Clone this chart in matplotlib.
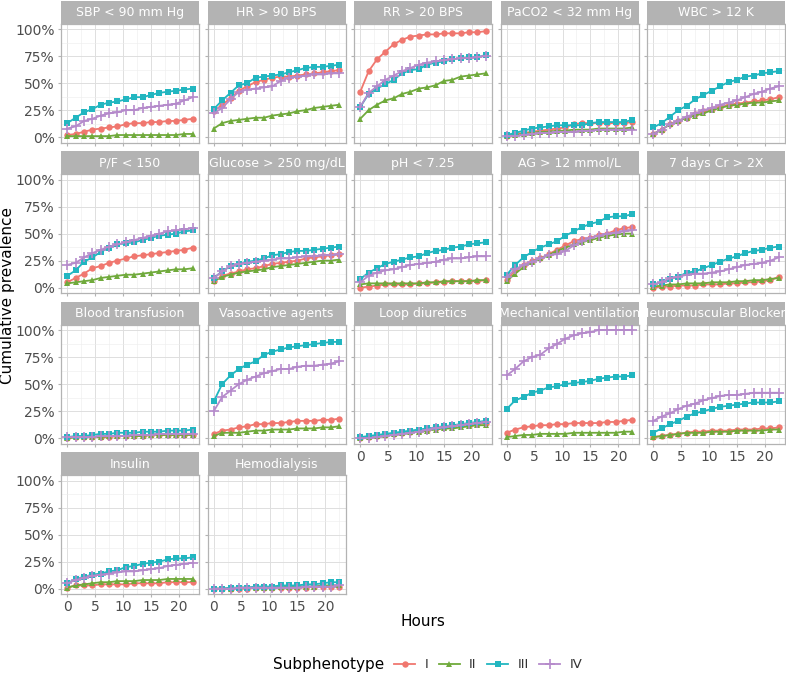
import matplotlib.pyplot as plt
from matplotlib.lines import Line2D
from matplotlib.ticker import FixedLocator, PercentFormatter

# hours since onset (points every 1.5 h)
hours = [0, 1.5, 3, 4.5, 6, 7.5, 9, 10.5, 12, 13.5, 15, 16.5, 18, 19.5, 21, 22.5]

groups = ['I', 'II', 'III', 'IV']
colors = ['#F0776F', '#70AA3C', '#22B6C0', '#B58ACB']
markers = ['o', '^', 's', '+']

# cumulative prevalence (%) per subphenotype I, II, III, IV
sbp = [[2, 3, 5, 7, 8, 9, 10, 12, 13, 13, 14, 14, 15, 15, 16, 17],
       [1, 1, 1, 1, 1, 1, 2, 2, 2, 2, 2, 2, 2, 2, 3, 3],
       [13, 18, 23, 26, 30, 32, 33, 35, 37, 37, 39, 41, 42, 43, 44, 45],
       [8, 10, 15, 17, 20, 22, 23, 25, 25, 27, 28, 29, 30, 31, 34, 37]]
hr = [[24, 30, 36, 43, 47, 51, 53, 55, 56, 56, 57, 58, 59, 60, 61, 62],
      [8, 13, 15, 16, 17, 18, 18, 20, 21, 22, 24, 25, 27, 28, 29, 30],
      [26, 34, 41, 48, 50, 55, 56, 57, 58, 60, 62, 64, 65, 65, 66, 67],
      [22, 27, 35, 42, 44, 45, 46, 47, 52, 55, 56, 57, 58, 58, 59, 59]]
rr = [[42, 61, 72, 79, 86, 90, 93, 94, 95, 95, 96, 96, 96, 97, 97, 98],
      [17, 25, 30, 34, 36, 40, 42, 45, 46, 48, 52, 53, 56, 57, 58, 59],
      [28, 40, 45, 49, 53, 59, 62, 63, 67, 69, 70, 72, 73, 74, 74, 76],
      [28, 41, 47, 53, 57, 61, 64, 67, 69, 70, 71, 72, 73, 73, 74, 75]]
paco2 = [[1, 3, 4, 5, 6, 7, 8, 9, 12, 13, 13, 13, 13, 13, 13, 14],
         [1, 2, 3, 4, 5, 5, 6, 6, 7, 7, 7, 8, 8, 8, 8, 9],
         [2, 4, 6, 8, 9, 10, 11, 11, 11, 11, 13, 14, 14, 14, 14, 16],
         [1, 1, 2, 3, 4, 4, 5, 5, 5, 6, 6, 7, 7, 7, 7, 7]]
wbc = [[3, 7, 12, 15, 18, 21, 24, 26, 28, 30, 31, 32, 33, 34, 35, 37],
       [3, 7, 12, 15, 18, 20, 22, 25, 27, 29, 30, 31, 32, 32, 33, 34],
       [9, 13, 19, 25, 29, 35, 39, 43, 47, 51, 53, 56, 57, 59, 60, 61],
       [3, 7, 12, 15, 19, 22, 25, 27, 30, 32, 34, 37, 40, 42, 45, 47]]
pf = [[5, 9, 13, 18, 20, 23, 25, 27, 29, 30, 31, 32, 33, 34, 35, 37],
      [4, 5, 6, 7, 9, 10, 11, 12, 12, 13, 14, 15, 16, 17, 17, 18],
      [11, 16, 24, 28, 33, 37, 40, 41, 42, 44, 46, 48, 49, 50, 52, 53],
      [21, 23, 28, 32, 35, 38, 40, 42, 44, 46, 48, 50, 52, 53, 54, 55]]
glucose = [[6, 11, 13, 15, 17, 18, 20, 22, 23, 24, 25, 27, 28, 29, 30, 31],
           [6, 10, 12, 14, 15, 16, 17, 19, 20, 21, 22, 23, 24, 25, 25, 26],
           [9, 15, 20, 22, 24, 25, 27, 30, 31, 33, 34, 34, 35, 36, 37, 38],
           [9, 15, 20, 22, 23, 24, 25, 26, 27, 27, 28, 29, 29, 30, 30, 31]]
ph = [[0, 1, 2, 3, 3, 3, 3, 4, 4, 5, 5, 6, 6, 6, 6, 7],
      [3, 4, 4, 4, 4, 4, 4, 4, 5, 5, 6, 6, 6, 6, 7, 7],
      [8, 14, 18, 22, 24, 26, 28, 29, 32, 34, 35, 37, 38, 40, 41, 42],
      [5, 11, 14, 16, 17, 19, 21, 22, 23, 24, 26, 27, 27, 28, 29, 29]]
ag = [[7, 16, 21, 25, 27, 31, 35, 39, 43, 45, 46, 49, 50, 53, 55, 56],
      [6, 13, 19, 24, 27, 30, 34, 37, 40, 42, 44, 46, 48, 49, 50, 50],
      [12, 21, 28, 33, 37, 40, 43, 48, 52, 56, 59, 61, 65, 66, 66, 68],
      [10, 17, 21, 24, 27, 30, 31, 34, 39, 43, 46, 48, 50, 51, 52, 53]]
cr = [[0, 1, 1, 2, 2, 2, 3, 3, 3, 4, 4, 5, 5, 6, 7, 10],
      [1, 2, 3, 3, 4, 4, 4, 5, 5, 5, 6, 6, 7, 7, 8, 9],
      [3, 5, 8, 10, 14, 15, 18, 21, 24, 27, 29, 32, 34, 35, 37, 38],
      [3, 5, 9, 10, 12, 13, 13, 14, 15, 17, 19, 21, 22, 23, 25, 28]]
blood = [[0, 1, 1, 1, 1, 1, 2, 2, 2, 2, 3, 3, 3, 3, 3, 3],
         [0, 1, 1, 1, 1, 2, 2, 2, 2, 2, 3, 3, 3, 3, 3, 3],
         [1, 2, 2, 3, 4, 4, 5, 5, 5, 6, 6, 6, 7, 7, 7, 8],
         [1, 1, 1, 1, 2, 2, 2, 2, 3, 3, 3, 4, 4, 4, 4, 4]]
vaso = [[4, 7, 8, 10, 11, 13, 13, 14, 14, 15, 16, 16, 16, 17, 17, 18],
        [2, 5, 5, 5, 6, 7, 7, 8, 8, 8, 9, 9, 9, 10, 10, 11],
        [34, 50, 58, 64, 68, 71, 77, 80, 82, 84, 85, 86, 87, 88, 89, 89],
        [25, 38, 44, 50, 54, 57, 60, 62, 64, 64, 66, 67, 67, 68, 69, 71]]
loop = [[0, 1, 2, 3, 4, 5, 6, 7, 8, 9, 10, 11, 12, 12, 13, 14],
        [0, 1, 2, 3, 4, 5, 6, 6, 7, 8, 9, 9, 10, 11, 12, 12],
        [1, 2, 3, 4, 5, 6, 7, 8, 9, 10, 11, 12, 13, 14, 15, 16],
        [0, 0, 1, 2, 3, 4, 5, 6, 8, 9, 10, 11, 12, 13, 14, 15]]
mech = [[5, 8, 10, 11, 12, 12, 13, 13, 14, 14, 14, 14, 15, 15, 16, 17],
        [1, 2, 3, 3, 4, 4, 4, 4, 5, 5, 5, 5, 5, 5, 6, 6],
        [27, 35, 38, 42, 44, 47, 48, 50, 51, 52, 53, 55, 56, 57, 57, 58],
        [58, 64, 71, 75, 77, 83, 87, 92, 95, 97, 98, 100, 100, 100, 100, 100]]
nmb = [[1, 2, 3, 4, 5, 6, 6, 7, 7, 7, 8, 8, 8, 9, 9, 10],
       [1, 2, 3, 4, 5, 5, 5, 6, 6, 6, 7, 7, 7, 7, 8, 8],
       [5, 9, 13, 16, 20, 23, 25, 27, 29, 30, 31, 32, 33, 33, 33, 34],
       [16, 20, 23, 27, 30, 32, 35, 37, 39, 40, 40, 41, 42, 42, 42, 42]]
insulin = [[1, 3, 3, 3, 4, 4, 4, 4, 5, 5, 5, 5, 6, 6, 6, 6],
           [1, 3, 4, 5, 6, 6, 7, 7, 7, 8, 8, 8, 9, 9, 9, 9],
           [5, 9, 11, 13, 14, 16, 17, 20, 21, 23, 24, 25, 27, 28, 28, 29],
           [5, 8, 10, 12, 13, 14, 15, 16, 16, 17, 18, 19, 21, 22, 23, 24]]
hemo = [[0, 0, 0, 0, 0, 1, 1, 1, 1, 1, 1, 1, 2, 2, 2, 2],
        [0, 0, 0, 1, 1, 1, 1, 1, 2, 2, 2, 2, 2, 3, 3, 3],
        [0, 0, 1, 1, 1, 2, 2, 2, 3, 3, 3, 4, 4, 5, 6, 6],
        [0, 0, 0, 1, 1, 1, 1, 1, 1, 1, 1, 2, 2, 2, 2, 3]]

titles = ['SBP < 90 mm Hg', 'HR > 90 BPS', 'RR > 20 BPS', 'PaCO2 < 32 mm Hg', 'WBC > 12 K',
          'P/F < 150', 'Glucose > 250 mg/dL', 'pH < 7.25', 'AG > 12 mmol/L', '7 days Cr > 2X',
          'Blood transfusion', 'Vasoactive agents', 'Loop diuretics', 'Mechanical ventilation',
          'Neuromuscular Blockers', 'Insulin', 'Hemodialysis']
panels = [sbp, hr, rr, paco2, wbc, pf, glucose, ph, ag, cr,
          blood, vaso, loop, mech, nmb, insulin, hemo]

W, H = 786, 674
fig = plt.figure(figsize=(W / 100, H / 100), dpi=100)


def px_axes(x, y, w, h):
    return fig.add_axes([x / W, 1 - (y + h) / H, w / W, h / H])


tick_col = '#4D4D4D'
for i, (title, data) in enumerate(zip(titles, panels)):
    r, c = divmod(i, 5)
    left = 61 + c * 146.5
    top = 23.6 + r * 150.5
    ax = px_axes(left, top, 138, 119)
    for s in range(4):
        plus = markers[s] == '+'
        ax.plot(hours, [v / 100 for v in data[s]], color=colors[s], marker=markers[s],
                ms=7 if plus else 4.6, mew=1.2 if plus else 0, lw=1.3, zorder=3 + s)
    ax.set_xlim(-1.125, 23.625)
    ax.set_ylim(-0.05, 1.05)
    ax.xaxis.set_major_locator(FixedLocator([0, 5, 10, 15, 20]))
    ax.xaxis.set_minor_locator(FixedLocator([2.5, 7.5, 12.5, 17.5, 22.5]))
    ax.yaxis.set_major_locator(FixedLocator([0, 0.25, 0.5, 0.75, 1]))
    ax.yaxis.set_minor_locator(FixedLocator([0.125, 0.375, 0.625, 0.875]))
    ax.yaxis.set_major_formatter(PercentFormatter(1.0, decimals=0))
    ax.grid(which='major', color='#DEDEDE', lw=0.7)
    ax.grid(which='minor', color='#EDEDED', lw=0.4)
    ax.set_axisbelow(True)
    for sp in ax.spines.values():
        sp.set_color('#B3B3B3')
        sp.set_linewidth(0.9)
    ax.tick_params(which='major', length=2.5, color='#B3B3B3', labelsize=10,
                   labelcolor=tick_col, pad=2)
    ax.tick_params(which='minor', length=0)
    if c != 0:
        ax.tick_params(axis='y', labelleft=False)
    if i < 12:
        ax.tick_params(axis='x', labelbottom=False)

    strip = px_axes(left, top - 23, 138, 23)
    strip.set_facecolor('#B3B3B3')
    strip.set_xticks([])
    strip.set_yticks([])
    for sp in strip.spines.values():
        sp.set_visible(False)
    # long names are clipped by the strip, as in the original facet labels
    strip.text(0.5, 0.48, title, color='white', fontsize=9, ha='center', va='center',
               transform=strip.transAxes, clip_on=True)

fig.text(8 / W, 1 - 295 / H, 'Cumulative prevalence', rotation=90, ha='center',
         va='center', fontsize=11)
fig.text(423 / W, 1 - 622 / H, 'Hours', ha='center', va='center', fontsize=11)
fig.text(273 / W, 1 - 665 / H, 'Subphenotype', ha='left', va='center', fontsize=11)

handles = []
for s in range(4):
    plus = markers[s] == '+'
    handles.append(Line2D([], [], color=colors[s], marker=markers[s],
                          ms=7 if plus else 4.6, mew=1.2 if plus else 0, lw=1.3))
fig.legend(handles, groups, ncol=4, loc='center left',
           bbox_to_anchor=(394 / W, 1 - 665 / H), frameon=False, fontsize=9.5,
           handlelength=1.6, handletextpad=0.7, columnspacing=0.8,
           borderpad=0, borderaxespad=0, labelcolor='#333333')

fig.savefig('out.png', dpi=100)
